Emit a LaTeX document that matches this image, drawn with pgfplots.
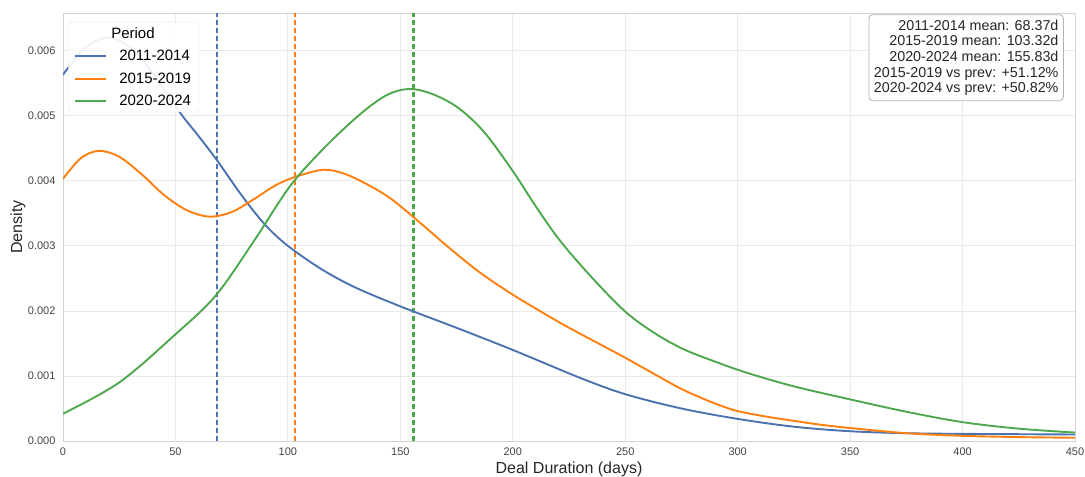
\documentclass[border=0pt]{standalone}
\usepackage{pgfplots}
\pgfplotsset{compat=1.18}
\usepackage{fontspec}
\setmainfont{Liberation Sans}

\definecolor{cblue}{HTML}{4C72B0}
\definecolor{corange}{HTML}{FF7F0E}
\definecolor{cgreen}{HTML}{4DA84D}
\definecolor{gridc}{HTML}{EAEAEA}
\definecolor{tickc}{HTML}{444444}

\begin{document}
\begin{tikzpicture}
\begin{axis}[
    scale only axis,
    width=1012pt, height=428pt,
    xmin=0, xmax=450,
    ymin=0, ymax=0.00658,
    xtick={0,50,...,450},
    ytick={0,0.001,0.002,0.003,0.004,0.005,0.006},
    scaled y ticks=false,
    yticklabel style={/pgf/number format/fixed, /pgf/number format/fixed zerofill, /pgf/number format/precision=3},
    /pgf/number format/assume math mode=true,
    ticklabel style={font=\fontsize{11}{13}\selectfont, text=tickc},
    major tick length=0pt,
    xtick pos=bottom, ytick pos=left,
    x tick label style={yshift=-3pt},
    y tick label style={xshift=-4pt},
    grid=major,
    grid style={gridc, line width=0.8pt},
    axis line style={gray!35, line width=0.8pt},
    xlabel={Deal Duration (days)},
    ylabel={Density},
    label style={font=\fontsize{16}{18}\selectfont, text=black!85},
    xlabel style={at={([yshift=-17.5pt]axis description cs:0.5,0)}, anchor=north},
    ylabel style={at={([xshift=-45pt]axis description cs:0,0.5)}, anchor=center},
    legend style={at={(axis description cs:0.005,0.979)}, anchor=north west,
        draw=gray!20, fill=white, fill opacity=0.9, text opacity=1,
        font=\fontsize{15}{18}\selectfont, rounded corners=3pt,
        row sep=6.5pt, inner xsep=6pt, inner ysep=3pt,
        /tikz/every odd column/.append style={column sep=10pt}},
    legend cell align=left,
    legend image code/.code={\draw[#1, line width=2pt, solid] (0pt,0pt) -- (31pt,0pt);},
]
\addlegendimage{empty legend}
\addlegendentry{\makebox[0pt][l]{\hspace{-8pt}Period}}

% mean lines
\addplot[draw=corange, line width=2.2pt, dash pattern=on 5pt off 3pt, forget plot] coordinates {(103.32,0) (103.32,0.00658)};
\addplot[draw=cgreen, line width=2.2pt, dash pattern=on 5pt off 3pt, forget plot] coordinates {(155.83,0) (155.83,0.00658)};
\addplot[draw=cblue, line width=2pt, dash pattern=on 5pt off 3pt, forget plot] coordinates {(68.37,0) (68.37,0.00658)};

% 2011-2014
\addplot[cblue, line width=1.9pt, smooth, tension=0.55] coordinates {
(0,0.00563) (10,0.00605) (20,0.00620) (30,0.00605) (40,0.00565) (52,0.00505)
(60,0.00470) (68.37,0.00432) (80,0.00375) (90,0.00332) (100,0.00300)
(115,0.00264) (130,0.00236) (150,0.00207) (175,0.00174) (200,0.00140)
(230,0.00097) (250,0.00072) (275,0.00050) (300,0.00034) (325,0.00022)
(350,0.00015) (375,0.00012) (400,0.00011) (450,0.00010)};
\addlegendentry{2011-2014}

% 2015-2019
\addplot[corange, line width=1.9pt, smooth, tension=0.55] coordinates {
(0,0.00403) (8,0.00435) (16,0.00446) (25,0.00437) (35,0.00410) (45,0.00378)
(55,0.00355) (65,0.00345) (75,0.00352) (85,0.00372) (95,0.00394) (105,0.00408)
(116,0.00417) (125,0.00411) (135,0.00395) (146,0.00372) (160,0.00332)
(170,0.00302) (185,0.00260) (200,0.00225) (212,0.00200) (224,0.00176)
(237,0.00152) (250,0.00128) (266,0.00097) (275,0.00080) (284,0.00066)
(292,0.00055) (300,0.00046) (312,0.00038) (325,0.00031) (337,0.00025)
(350,0.00020) (375,0.00012) (400,0.00008) (425,0.00006) (450,0.00005)};
\addlegendentry{2015-2019}

% 2020-2024
\addplot[cgreen, line width=1.9pt, smooth, tension=0.55] coordinates {
(0,0.00042) (25,0.00090) (50,0.00164) (68,0.00224) (85,0.00308)
(101,0.00392) (116,0.00450) (131,0.00499) (143,0.00530) (153,0.00541)
(163,0.00535) (175,0.00514) (187,0.00476) (200,0.00415) (210,0.00362)
(221,0.00308) (235,0.00252) (250,0.00199) (263,0.00166) (276,0.00141)
(290,0.00122) (304,0.00105) (325,0.00084) (350,0.00064) (375,0.00045)
(400,0.00029) (425,0.00019) (450,0.00013)};
\addlegendentry{2020-2024}

\node[anchor=north east, draw=gray!60, fill=white, rounded corners=4pt,
      align=right, font=\fontsize{14.3}{15.7}\selectfont, text=black!85,
      inner xsep=5pt, inner ysep=5pt, line width=0.8pt]
  at (rel axis cs:0.989,0.997)
  {2011-2014 mean: 68.37d\\2015-2019 mean: 103.32d\\2020-2024 mean: 155.83d\\2015-2019 vs prev: +51.12\%\\2020-2024 vs prev: +50.82\%};
\end{axis}
\path (current axis.south west) ++(-63pt,-35pt) coordinate (bbA);
\path (current axis.north east) ++(10pt,13pt) coordinate (bbB);
\pgfresetboundingbox
\useasboundingbox (bbA) rectangle (bbB);
\end{tikzpicture}
\end{document}
